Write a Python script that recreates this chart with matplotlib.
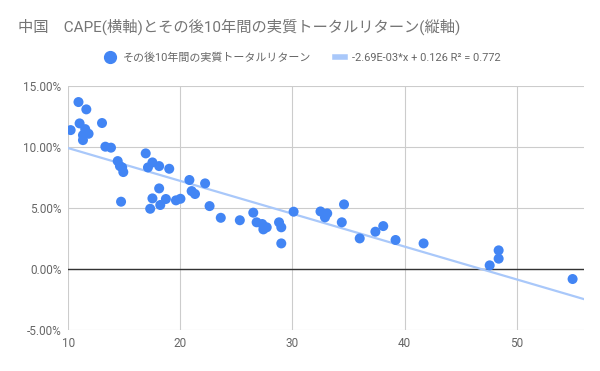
import matplotlib
matplotlib.use("Agg")
import matplotlib.pyplot as plt
from matplotlib.ticker import FuncFormatter
import numpy as np

plt.rcParams['font.family'] = ['Roboto', 'Noto Sans CJK JP', 'DejaVu Sans']

# データ (CAPE, その後10年間の実質トータルリターン)
cape = [10.2, 10.9, 11.6, 11.0, 11.5, 11.3, 11.3, 11.8, 13.0,
        13.3, 13.8, 14.4, 14.6, 14.8, 14.9, 14.7,
        16.9, 17.5, 17.1, 18.1, 19.0, 18.1, 17.5, 17.3, 18.7, 18.2,
        19.6, 20.0, 20.8, 21.0, 21.3, 22.2, 22.6, 23.6, 25.3,
        26.5, 26.8, 27.3, 27.4, 27.7, 28.8, 29.0, 29.0, 30.1,
        32.5, 32.9, 33.1, 34.6, 34.4, 36.0, 37.4, 38.1, 39.2, 41.7,
        47.6, 48.4, 48.4, 55.0]
ret = [0.1139, 0.1369, 0.1309, 0.1194, 0.1147, 0.1098, 0.1057, 0.1109, 0.1197,
       0.1003, 0.0995, 0.0885, 0.0844, 0.0833, 0.0795, 0.0552,
       0.0948, 0.0874, 0.0833, 0.0844, 0.0822, 0.0661, 0.0579, 0.0494, 0.0574, 0.0525,
       0.0563, 0.0576, 0.0730, 0.0639, 0.0615, 0.0702, 0.0516, 0.0420, 0.0400,
       0.0462, 0.0383, 0.0369, 0.0325, 0.0342, 0.0383, 0.0342, 0.0210, 0.0470,
       0.0472, 0.0424, 0.0456, 0.0530, 0.0383, 0.0251, 0.0306, 0.0352, 0.0238, 0.0210,
       0.0030, 0.0153, 0.0085, -0.0082]

slope = -2.69e-3
intercept = 0.126

title = "中国\u3000CAPE(横軸)とその後10年間の実質トータルリターン(縦軸)"
series_label = "その後10年間の実質トータルリターン"
trend_label = "-2.69E-03*x + 0.126 R² = 0.772"

fig = plt.figure(figsize=(6, 3.71), dpi=100)
ax = fig.add_axes([0.114, 0.1105, 0.859, 0.6575])

xs = np.array([10, 56])
ax.plot(xs, slope * xs + intercept, color="#A9C8FA", linewidth=1.6, zorder=2)
ax.scatter(cape, ret, s=52, color="#4285F4", edgecolors="none", zorder=3)
ax.axhline(0, color="#333333", linewidth=1, zorder=1.5)

ax.set_xlim(10, 56)
ax.set_ylim(-0.05, 0.15)
ax.set_xticks([10, 20, 30, 40, 50])
ax.set_yticks([-0.05, 0, 0.05, 0.10, 0.15])
ax.yaxis.set_major_formatter(FuncFormatter(lambda v, p: f"{v*100:.2f}%"))
ax.grid(True, color="#cccccc", linewidth=0.8, zorder=0)
ax.set_axisbelow(True)
for s in ax.spines.values():
    s.set_visible(False)
ax.tick_params(length=0, labelsize=8.5, labelcolor="#666666", pad=5)

fig.text(0.03, 0.927, title, fontsize=11, color="#757575", va="center")

h1 = plt.Line2D([], [], marker="o", linestyle="none", color="#4285F4", markersize=8.5)
h2 = plt.Line2D([], [], color="#A9C8FA", linewidth=4)
fig.legend([h1, h2], [series_label, trend_label], loc="center", ncol=2,
           bbox_to_anchor=(0.505, 0.844), frameon=False, fontsize=7.9,
           labelcolor="#666666", handlelength=0.9, columnspacing=2.2, handletextpad=0.7)

fig.savefig("out.png", dpi=100)
